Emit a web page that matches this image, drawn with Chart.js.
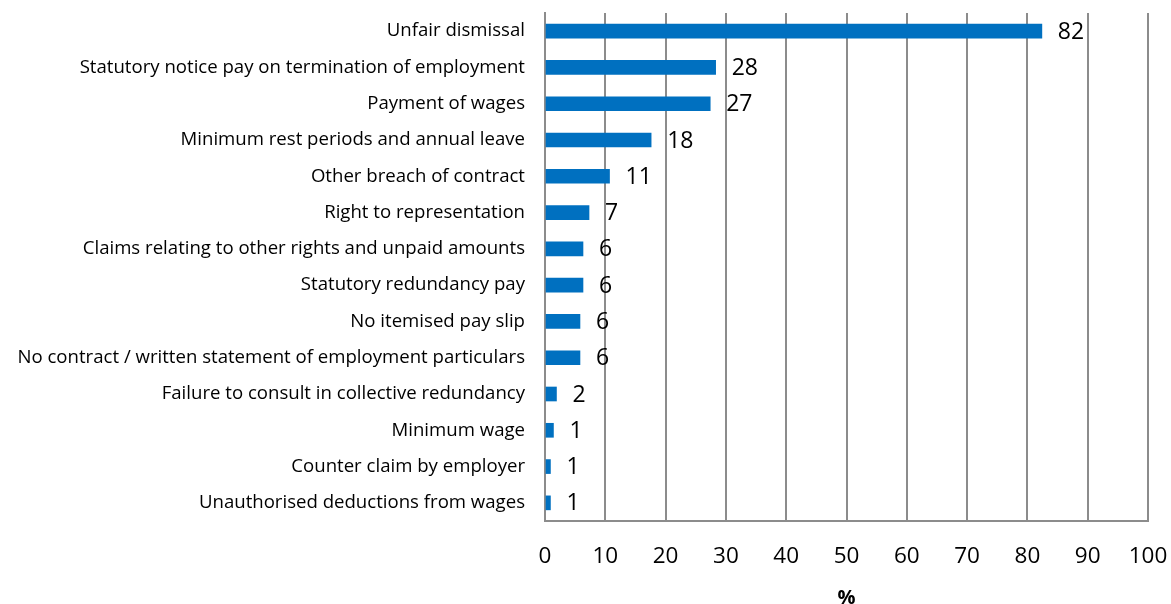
<!DOCTYPE html>
<html>
<head>
<meta charset="utf-8">
<script src="https://cdn.jsdelivr.net/npm/chart.js@4"></script>
<style>
  html, body { margin: 0; padding: 0; background: #fff; }
  #wrap { width: 1171px; height: 604px; }
</style>
</head>
<body>
<div id="wrap"><canvas id="claimsChart" width="1171" height="604"></canvas></div>
<script>
// Claim types and share of claims (%)
const categories = [
    'Unfair dismissal',
    'Statutory notice pay on termination of employment',
    'Payment of wages',
    'Minimum rest periods and annual leave',
    'Other breach of contract',
    'Right to representation',
    'Claims relating to other rights and unpaid amounts',
    'Statutory redundancy pay',
    'No itemised pay slip',
    'No contract / written statement of employment particulars',
    'Failure to consult in collective redundancy',
    'Minimum wage',
    'Counter claim by employer',
    'Unauthorised deductions from wages'
];
const shares = [82.4, 28.3, 27.4, 17.6, 10.7, 7.3, 6.3, 6.3, 5.8, 5.8, 1.9, 1.4, 0.9, 0.9];
const xTicks = [0, 10, 20, 30, 40, 50, 60, 70, 80, 90, 100];

const gridGrey = '#8c8c8c';
const font = "'Open Sans', 'Noto Sans', sans-serif";

// draws the value next to each bar
const valueLabels = {
    id: 'valueLabels',
    afterDatasetsDraw(chart) {
        const ctx = chart.ctx;
        const meta = chart.getDatasetMeta(0);
        ctx.save();
        ctx.font = '23px ' + font;
        ctx.fillStyle = '#000';
        ctx.textAlign = 'left';
        ctx.textBaseline = 'middle';
        meta.data.forEach((bar, i) => {
            ctx.fillText(String(Math.round(shares[i])), bar.x + 16, bar.y + 1);
        });
        ctx.restore();
    }
};

new Chart(document.getElementById('claimsChart').getContext('2d'), {
    type: 'bar',
    data: {
        labels: categories,
        datasets: [{
            data: shares,
            backgroundColor: '#0070c0',
            borderWidth: 0,
            barThickness: 14
        }]
    },
    options: {
        indexAxis: 'y',
        responsive: false,
        animation: false,
        layout: { padding: { top: 13, right: 23, left: 0, bottom: 0 } },
        plugins: {
            legend: { display: false },
            tooltip: { enabled: false }
        },
        scales: {
            x: {
                min: 0,
                max: 100,
                afterBuildTicks(scale) {
                    scale.ticks = xTicks.map(v => ({ value: v }));
                },
                afterFit(scale) {
                    scale.height = 83;
                    scale.paddingLeft = 0;
                    scale.paddingRight = 0;
                },
                grid: { color: gridGrey, lineWidth: 2, drawTicks: false },
                border: { color: gridGrey, width: 2 },
                ticks: { color: '#000', padding: 22, font: { family: font, size: 22.5 } },
                title: {
                    display: true,
                    text: '%',
                    color: '#000',
                    padding: { top: 0, bottom: 0 },
                    font: { family: font, size: 20, weight: 'bold', lineHeight: 0.6 }
                }
            },
            y: {
                afterFit(scale) {
                    scale.width = 545;
                    scale.paddingTop = 0;
                    scale.paddingBottom = 0;
                },
                grid: { display: false, drawTicks: false },
                border: { display: true, color: gridGrey, width: 2 },
                ticks: { color: '#000', padding: 20, autoSkip: false, font: { family: font, size: 18.6, lineHeight: 1.05 } }
            }
        }
    },
    plugins: [valueLabels]
});
</script>
</body>
</html>
